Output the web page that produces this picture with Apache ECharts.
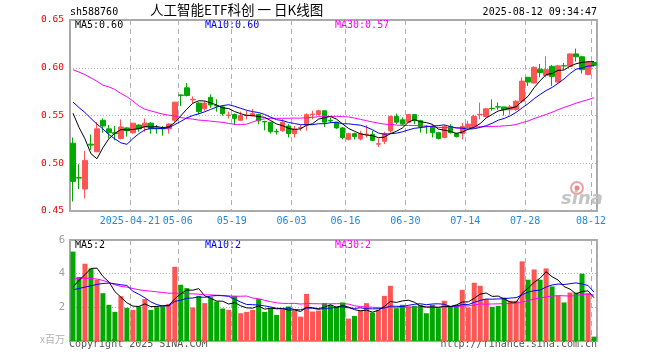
<!DOCTYPE html>
<html><head><meta charset="utf-8">
<script src="https://cdn.jsdelivr.net/npm/echarts@6/dist/echarts.min.js"></script>
<style>html,body{margin:0;padding:0;background:#fff}#c{width:660px;height:360px}</style>
</head><body><div id="c"></div>
<script>
// ---- data ----
const categories = [
'2025-04-07','2025-04-08','2025-04-09','2025-04-10','2025-04-11',
'2025-04-14','2025-04-15','2025-04-16','2025-04-17','2025-04-18',
'2025-04-21','2025-04-22','2025-04-23','2025-04-24','2025-04-25',
'2025-04-28','2025-04-29','2025-04-30',
'2025-05-06','2025-05-07','2025-05-08','2025-05-09',
'2025-05-12','2025-05-13','2025-05-14','2025-05-15','2025-05-16',
'2025-05-19','2025-05-20','2025-05-21','2025-05-22','2025-05-23',
'2025-05-26','2025-05-27','2025-05-28','2025-05-29','2025-05-30',
'2025-06-03','2025-06-04','2025-06-05','2025-06-06',
'2025-06-09','2025-06-10','2025-06-11','2025-06-12','2025-06-13',
'2025-06-16','2025-06-17','2025-06-18','2025-06-19','2025-06-20',
'2025-06-23','2025-06-24','2025-06-25','2025-06-26','2025-06-27',
'2025-06-30','2025-07-01','2025-07-02','2025-07-03','2025-07-04',
'2025-07-07','2025-07-08','2025-07-09','2025-07-10','2025-07-11',
'2025-07-14','2025-07-15','2025-07-16','2025-07-17','2025-07-18',
'2025-07-21','2025-07-22','2025-07-23','2025-07-24','2025-07-25',
'2025-07-28','2025-07-29','2025-07-30','2025-07-31','2025-08-01',
'2025-08-04','2025-08-05','2025-08-06','2025-08-07','2025-08-08',
'2025-08-11','2025-08-12'];

const opens = [0.521,0.485,0.473,0.520,0.512,0.545,0.536,0.532,0.526,0.537,
0.532,0.540,0.538,0.542,0.537,0.5365,0.536,0.545,0.5715,0.579,
0.5665,0.563,0.557,0.569,0.5605,0.559,0.550,0.551,0.545,0.550,
0.5495,0.551,0.5437,0.543,0.5333,0.534,0.539,0.531,0.537,0.540,
0.551,0.551,0.555,0.5447,0.543,0.537,0.525,0.531,0.5255,0.530,
0.530,0.520,0.523,0.534,0.549,0.5455,0.543,0.551,0.5445,0.5388,
0.5385,0.532,0.527,0.5385,0.531,0.531,0.5385,0.5385,0.551,0.549,
0.5575,0.5592,0.559,0.556,0.5565,0.565,0.590,0.584,0.5985,0.592,
0.6015,0.585,0.6022,0.6015,0.6145,0.6115,0.593,0.6055];
const closes = [0.481,0.4845,0.503,0.519,0.536,0.539,0.532,0.531,0.538,0.534,
0.542,0.536,0.542,0.536,0.536,0.536,0.541,0.564,0.571,0.571,
0.567,0.554,0.563,0.561,0.560,0.552,0.5505,0.547,0.550,0.5505,
0.552,0.5445,0.5433,0.533,0.5329,0.543,0.531,0.536,0.5375,0.551,
0.5515,0.555,0.543,0.5443,0.537,0.527,0.531,0.528,0.531,0.5305,
0.524,0.5205,0.531,0.549,0.543,0.541,0.551,0.5445,0.538,0.5385,
0.532,0.526,0.5385,0.532,0.528,0.5385,0.541,0.549,0.5513,0.557,
0.5572,0.5589,0.556,0.559,0.565,0.586,0.585,0.6005,0.595,0.598,
0.591,0.602,0.6019,0.6145,0.6115,0.598,0.6055,0.6025];
const lows = [0.460,0.473,0.463,0.514,0.512,0.532,0.526,0.524,0.525,0.528,
0.531,0.533,0.533,0.531,0.531,0.529,0.531,0.543,0.560,0.570,
0.563,0.551,0.555,0.558,0.554,0.550,0.547,0.540,0.5445,0.546,
0.549,0.541,0.5345,0.531,0.530,0.533,0.527,0.527,0.534,0.534,
0.546,0.550,0.538,0.542,0.536,0.525,0.524,0.525,0.524,0.527,
0.523,0.517,0.520,0.532,0.541,0.540,0.542,0.541,0.532,0.531,
0.527,0.525,0.526,0.531,0.527,0.525,0.5375,0.5375,0.546,0.548,
0.555,0.556,0.550,0.551,0.555,0.563,0.581,0.5835,0.590,0.590,
0.581,0.584,0.598,0.601,0.6065,0.594,0.592,0.6015];
const highs = [0.527,0.499,0.513,0.530,0.543,0.547,0.540,0.539,0.546,0.538,
0.542,0.541,0.547,0.543,0.540,0.539,0.542,0.564,0.572,0.584,
0.570,0.564,0.565,0.572,0.567,0.561,0.554,0.552,0.554,0.555,
0.557,0.552,0.5445,0.543,0.536,0.546,0.541,0.539,0.540,0.552,
0.555,0.556,0.555,0.548,0.543,0.538,0.532,0.532,0.534,0.540,
0.534,0.526,0.533,0.550,0.552,0.548,0.551,0.551,0.5455,0.540,
0.540,0.533,0.540,0.541,0.532,0.542,0.5445,0.551,0.5635,0.558,
0.567,0.5635,0.559,0.561,0.566,0.590,0.590,0.6015,0.604,0.612,
0.603,0.603,0.605,0.615,0.620,0.6125,0.6065,0.6065];

const volumes = [5.31,3.80,4.59,4.31,3.64,2.84,2.15,1.73,2.66,1.97,
1.85,2.05,2.49,1.85,2.01,2.05,2.21,4.41,3.34,3.14,
1.99,2.68,2.25,2.60,2.35,1.93,1.85,2.68,1.65,1.73,
1.85,2.49,1.73,1.95,1.55,1.89,2.05,1.81,1.45,2.80,
1.75,1.81,2.25,2.15,2.05,2.29,1.33,1.49,1.81,2.25,
1.69,1.85,2.68,3.28,1.95,2.15,2.05,2.09,2.15,1.65,
2.15,1.95,2.39,2.05,2.15,3.04,1.99,3.46,3.28,2.49,
2.03,2.09,2.58,2.39,2.39,4.73,3.64,4.25,3.64,4.31,
3.24,2.68,2.29,2.88,2.88,4.00,2.84,0.26];

// moving-average values before enough bars exist in the window
const ma5Head = [0.5524,0.5376,0.5255,0.510];
const ma10Head = [0.5641,0.5583,0.5531,0.5469,0.541,0.5359,0.530,0.5255,0.5214];
const ma30Head = [0.5979,0.5955,0.5928,0.5893,0.5859,0.5817,0.580,0.5772,0.5731,0.5697,
0.5652,0.560,0.5566,0.5548,0.5531,0.5514,0.5503,0.5497,0.5479,0.5469,
0.5462,0.5452,0.5448,0.5441,0.5434,0.5428,0.5417,0.5407,0.5407];
const volMa5Head = [3.20,3.60,3.94,4.31];
const volMa10Head = [3.04,3.12,3.20,3.28,3.36,3.42,3.44,3.40,3.34];
const volMa30Head = [3.68,3.72,3.74,3.72,3.68,3.60,3.48,3.34,3.24,3.20,
3.12,3.04,3.00,2.96,2.92,2.88,2.84,2.84,2.84,2.80,
2.80,2.78,2.74,2.74,2.72,2.70,2.68,2.66,2.66];

const tickDates = ['2025-04-21','2025-05-06','2025-05-19','2025-06-03','2025-06-16','2025-06-30','2025-07-14','2025-07-28','2025-08-12'];
const tickTexts = ['2025-04-21','05-06','05-19','06-03','06-16','06-30','07-14','07-28','08-12'];
const priceTicks = [0.45,0.50,0.55,0.60,0.65];
const volTicks = [2,4,6];

// ---- build ----
function movingAvg(vals, n, head){
  return vals.map((v,i)=>{
    if(i < n-1) return head[i];
    let s=0; for(let j=i-n+1;j<=i;j++) s+=vals[j];
    return +(s/n).toFixed(4);
  });
}
const UP='#FF5555', DOWN='#00A800';
const tickIdx = tickDates.map(d=>categories.indexOf(d));
const isTick = i => tickIdx.indexOf(i) >= 0;
const mono = 'DejaVu Sans Mono';

const chart = echarts.init(document.getElementById('c'), null, {renderer:'canvas'});
const gridLineColor = '#b0b0b0';
const xBase = {
  type:'category', data:categories, boundaryGap:true,
  axisLine:{show:false}, axisTick:{show:false},
  splitLine:{show:true, interval:(i)=>isTick(i), lineStyle:{color:gridLineColor, type:[5,4], width:1}}
};
chart.setOption({
  animation:false,
  backgroundColor:'#fff',
  grid:[
    {left:70, top:20, width:527, height:191, show:true, borderColor:'#a8a8a8', borderWidth:2, backgroundColor:'transparent'},
    {left:70, top:240, width:527, height:101, show:true, borderColor:'#a8a8a8', borderWidth:2, backgroundColor:'transparent'}
  ],
  xAxis:[
    Object.assign({}, xBase, {gridIndex:0,
      axisLabel:{show:true, interval:(i)=>isTick(i), margin:5,
        formatter:(v)=>{const k=tickDates.indexOf(v); return k>=0?'{a|'+tickTexts[k]+'}':'';},
        rich:{a:{fontFamily:mono, fontSize:10, color:'#1E88E5', padding:[0,6,0,0]}}}}),
    Object.assign({}, xBase, {gridIndex:1, axisLabel:{show:false}})
  ],
  yAxis:[
    {gridIndex:0, type:'value', min:priceTicks[0], max:priceTicks[priceTicks.length-1], interval:0.05,
      axisLine:{show:false}, axisTick:{show:false},
      axisLabel:{margin:6, fontFamily:mono, fontSize:9.5, color:'#ee0000', formatter:v=>v.toFixed(2)},
      splitLine:{show:true, lineStyle:{color:gridLineColor, type:[1,2], width:1}}},
    {gridIndex:1, type:'value', min:0, max:volTicks[volTicks.length-1], interval:2,
      axisLine:{show:false}, axisTick:{show:false},
      axisLabel:{margin:5, fontFamily:'DejaVu Sans', fontSize:10, color:'#a0a0a0', formatter:v=>volTicks.indexOf(v)>=0?String(v):''},
      splitLine:{show:true, lineStyle:{color:gridLineColor, type:[1,2], width:1}}}
  ],
  series:[
    {type:'candlestick', xAxisIndex:0, yAxisIndex:0, barWidth:5,
      data:categories.map((_,i)=>[opens[i],closes[i],lows[i],highs[i]]),
      itemStyle:{color:UP, color0:DOWN, borderColor:UP, borderColor0:DOWN, borderWidth:1}},
    {type:'line', xAxisIndex:0, yAxisIndex:0, data:movingAvg(closes,30,ma30Head), showSymbol:false, lineStyle:{color:'#FF00FF', width:1}},
    {type:'line', xAxisIndex:0, yAxisIndex:0, data:movingAvg(closes,10,ma10Head), showSymbol:false, lineStyle:{color:'#0000FF', width:1}},
    {type:'line', xAxisIndex:0, yAxisIndex:0, data:movingAvg(closes,5,ma5Head), showSymbol:false, lineStyle:{color:'#000000', width:1}},
    {type:'bar', xAxisIndex:1, yAxisIndex:1, barWidth:5,
      data:volumes.map((v,i)=>({value:v, itemStyle:{color: closes[i]>=opens[i]?UP:DOWN}}))},
    {type:'line', xAxisIndex:1, yAxisIndex:1, data:movingAvg(volumes,30,volMa30Head), showSymbol:false, lineStyle:{color:'#FF00FF', width:1}},
    {type:'line', xAxisIndex:1, yAxisIndex:1, data:movingAvg(volumes,10,volMa10Head), showSymbol:false, lineStyle:{color:'#0000FF', width:1}},
    {type:'line', xAxisIndex:1, yAxisIndex:1, data:movingAvg(volumes,5,volMa5Head), showSymbol:false, lineStyle:{color:'#000000', width:1}}
  ],
  graphic:[
    {type:'text', left:70, top:7, style:{text:'sh588760', font:'10px "DejaVu Sans Mono"', fill:'#000'}},
    {type:'text', left:150, top:3, style:{text:'人工智能ETF科创 一 日K线图', font:'13.5px "Noto Sans CJK SC"', fill:'#000'}},
    {type:'text', right:63, top:7, style:{text:'2025-08-12 09:34:47', font:'10px "DejaVu Sans Mono"', fill:'#000'}},
    {type:'text', left:75, top:20, style:{text:'MA5:0.60', font:'10px "DejaVu Sans Mono"', fill:'#000'}},
    {type:'text', left:205, top:20, style:{text:'MA10:0.60', font:'10px "DejaVu Sans Mono"', fill:'#0000FF'}},
    {type:'text', left:335, top:20, style:{text:'MA30:0.57', font:'10px "DejaVu Sans Mono"', fill:'#FF00FF'}},
    {type:'text', left:75, top:240, style:{text:'MA5:2', font:'10px "DejaVu Sans Mono"', fill:'#000'}},
    {type:'text', left:205, top:240, style:{text:'MA10:2', font:'10px "DejaVu Sans Mono"', fill:'#0000FF'}},
    {type:'text', left:335, top:240, style:{text:'MA30:2', font:'10px "DejaVu Sans Mono"', fill:'#FF00FF'}},
    {type:'text', right:595, top:334, style:{text:'x百万', font:'10px "Noto Sans CJK SC"', fill:'#b0b0b0'}},
    {type:'text', left:69, top:339, style:{text:'Copyright 2025 SINA.COM', font:'10px "DejaVu Sans Mono"', fill:'#555'}},
    {type:'text', right:63, top:339, style:{text:'http://finance.sina.com.cn', font:'10px "DejaVu Sans Mono"', fill:'#555'}},
    {type:'circle', shape:{cx:577, cy:188, r:6}, style:{fill:'none', stroke:'#f0a0a0', lineWidth:2}},
    {type:'circle', shape:{cx:577, cy:188, r:2.5}, style:{fill:'#e88'}},
    {type:'text', left:561, top:190, style:{text:'sina', font:'italic bold 18px "DejaVu Sans"', fill:'#c4c4c4'}}
  ]
});
</script></body></html>
